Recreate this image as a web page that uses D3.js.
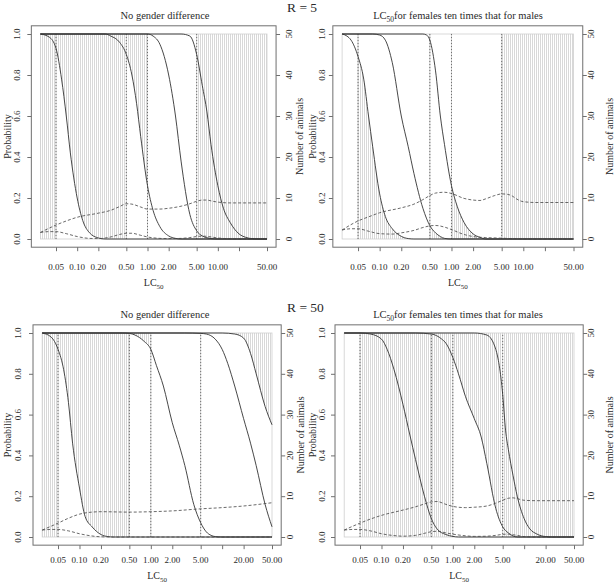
<!DOCTYPE html>
<html><head><meta charset="utf-8">
<script src="https://cdn.jsdelivr.net/npm/d3@7"></script>
<style>
body{margin:0;background:#fff}
svg{display:block}
text{font-family:"Liberation Serif","Times New Roman",serif;fill:#2a2a2a}
</style>
</head><body>
<svg id="chart" width="614" height="584"></svg>
<script>
// ---------- tick / label data ----------
const xTickValues = [0.05, 0.1, 0.2, 0.5, 1, 2, 5, 10, 20, 50];
const topXTickLabels = ["0.05","0.10","0.20","0.50","1.00","2.00","5.00","10.00","","50.00"];
const bottomXTickLabels = ["0.05","0.10","0.20","0.50","1.00","2.00","5.00","","20.00","50.00"];
const probTicks = [0, 0.2, 0.4, 0.6, 0.8, 1.0];
const probTickLabels = ["0.0","0.2","0.4","0.6","0.8","1.0"];
const animalTicks = [0, 10, 20, 30, 40, 50];
const doseLines = [0.05, 0.5, 1, 5];
const lcDomain = [0.03, 50];
const rowTitles = ["R = 5", "R = 50"];
const panelTitles = ["No gender difference", "for females ten times that for males"];

// ---------- R = 5, no gender difference ----------
const tlCurve1 = [[0.03,1],[0.04,0.985],[0.05,0.93],[0.06,0.78],[0.07,0.6],[0.08,0.42],[0.1,0.2],[0.12,0.09],[0.15,0.03],[0.2,0.005],[0.25,0],[50,0]];
const tlCurve2 = [[0.03,1],[0.25,1],[0.3,0.99],[0.4,0.96],[0.5,0.9],[0.6,0.8],[0.7,0.66],[0.8,0.5],[1,0.26],[1.2,0.14],[1.5,0.06],[2,0.015],[2.5,0.003],[3,0],[50,0]];
const tlCurve3 = [[0.03,1],[1,1],[1.2,0.99],[1.5,0.95],[2,0.8],[2.5,0.6],[3,0.38],[4,0.12],[5,0.04],[6,0.015],[7,0.006],[8,0.002],[10,0],[50,0]];
const tlCurve4 = [[0.03,1],[3,1],[4,0.99],[5,0.9],[6,0.75],[7,0.62],[8,0.46],[10,0.26],[12,0.15],[15,0.08],[20,0.025],[25,0.008],[30,0.002],[40,0],[50,0]];
const tlAnimalsUpper = [[0.03,1.6],[0.05,3.4],[0.07,4.4],[0.1,5.3],[0.2,6.3],[0.3,7.0],[0.4,7.9],[0.5,8.6],[0.6,8.5],[0.8,7.8],[1,7.3],[1.5,7.3],[2,7.5],[3,8.0],[4,8.6],[5,9.2],[6,9.5],[7,9.5],[8,9.3],[10,9.0],[15,8.8],[20,8.8],[50,8.8]];
const tlAnimalsLower = [[0.03,1.6],[0.04,1.8],[0.05,1.8],[0.07,1.3],[0.1,0.6],[0.15,0.15],[0.2,0.1],[0.3,0.5],[0.4,1.1],[0.5,1.4],[0.6,1.4],[0.8,0.9],[1,0.5],[1.5,0.15],[2,0.1],[3,0.15],[4,0.35],[5,0.6],[6,0.7],[7,0.65],[8,0.5],[10,0.25],[15,0.05],[20,0],[50,0]];

// ---------- R = 5, females ten times males ----------
const trCurveA = [[0.03,1],[0.035,0.99],[0.04,0.97],[0.05,0.89],[0.06,0.78],[0.07,0.6],[0.08,0.45],[0.1,0.22],[0.12,0.11],[0.15,0.05],[0.2,0.013],[0.25,0.002],[0.3,0],[50,0]];
const trCurveB = [[0.03,1],[0.08,1],[0.1,0.995],[0.12,0.97],[0.15,0.86],[0.2,0.6],[0.25,0.45],[0.3,0.32],[0.4,0.15],[0.5,0.065],[0.6,0.03],[0.7,0.012],[0.8,0.003],[1,0],[50,0]];
const trCurveC = [[0.03,1],[0.4,1],[0.45,0.995],[0.5,0.97],[0.6,0.82],[0.7,0.6],[0.8,0.46],[1,0.26],[1.2,0.16],[1.5,0.08],[2,0.025],[2.5,0.008],[3,0],[50,0]];
const trAnimalsUpper = [[0.03,2.2],[0.05,4.4],[0.07,5.4],[0.1,6.4],[0.2,7.6],[0.3,8.5],[0.4,9.6],[0.5,10.6],[0.6,11.2],[0.8,11.4],[1,11.1],[1.5,9.9],[2,9.5],[2.5,9.4],[3,9.8],[4,10.6],[5,11.0],[6,10.9],[7,10.5],[8,9.8],[10,9.1],[15,8.9],[20,8.9],[50,8.9]];
const trAnimalsLower = [[0.03,2.2],[0.04,2.5],[0.05,2.5],[0.07,1.9],[0.1,1.3],[0.15,1.2],[0.2,1.5],[0.3,2.1],[0.4,2.8],[0.5,3.2],[0.6,3.3],[0.8,2.9],[1,2.3],[1.5,1.1],[2,0.6],[3,0.35],[5,0.2],[7,0.1],[10,0],[50,0]];

// ---------- R = 50, no gender difference ----------
const blCurve1 = [[0.03,1],[0.04,0.98],[0.05,0.92],[0.06,0.82],[0.07,0.66],[0.08,0.46],[0.1,0.24],[0.12,0.1],[0.15,0.05],[0.2,0.012],[0.25,0.002],[0.3,0],[50,0]];
const blCurve2 = [[0.03,1],[0.4,1],[0.5,0.998],[0.6,0.99],[0.8,0.96],[1,0.92],[1.2,0.84],[1.5,0.74],[2,0.56],[2.5,0.45],[3,0.35],[4,0.16],[5,0.07],[6,0.025],[7,0.008],[8,0.002],[10,0],[50,0]];
const blCurve3 = [[0.03,1],[3,1],[5,0.998],[6,0.995],[8,0.97],[10,0.92],[12,0.85],[15,0.74],[20,0.58],[25,0.46],[30,0.35],[40,0.16],[50,0.05]];
const blCurve4 = [[0.03,1],[10,1],[15,0.995],[20,0.975],[25,0.9],[30,0.8],[40,0.64],[50,0.55]];
const blAnimalsUpper = [[0.03,1.7],[0.05,3.4],[0.07,4.6],[0.1,5.6],[0.15,6.1],[0.2,6.2],[0.5,6.1],[1,6.2],[2,6.4],[5,6.9],[10,7.2],[20,7.6],[50,8.4]];
const blAnimalsLower = [[0.03,1.7],[0.04,1.85],[0.05,1.85],[0.07,1.5],[0.1,0.8],[0.15,0.25],[0.2,0.05],[0.3,0],[50,0]];

// ---------- R = 50, females ten times males ----------
const brCurveA = [[0.03,1],[0.05,1],[0.07,0.995],[0.1,0.97],[0.12,0.92],[0.15,0.82],[0.2,0.65],[0.25,0.5],[0.3,0.38],[0.4,0.2],[0.5,0.09],[0.6,0.04],[0.8,0.012],[1,0.003],[1.2,0],[50,0]];
const brCurveB = [[0.03,1],[0.3,1],[0.5,0.995],[0.7,0.97],[0.8,0.95],[1,0.88],[1.2,0.8],[1.5,0.69],[2,0.58],[2.5,0.49],[3,0.36],[4,0.14],[5,0.05],[6,0.02],[7,0.005],[8,0],[50,0]];
const brCurveC = [[0.03,1],[2,1],[3,0.99],[4,0.92],[5,0.7],[5.5,0.52],[6,0.43],[7,0.3],[8,0.2],[10,0.09],[12,0.04],[15,0.015],[20,0.002],[25,0],[50,0]];
const brAnimalsUpper = [[0.03,1.7],[0.05,3.4],[0.07,4.4],[0.1,5.3],[0.2,6.6],[0.3,7.4],[0.4,8.1],[0.5,8.6],[0.6,8.7],[0.8,8.0],[1,7.5],[1.5,7.2],[2,7.3],[3,7.6],[4,8.3],[5,9.0],[6,9.5],[7,9.6],[8,9.4],[10,9.0],[15,8.9],[50,8.9]];
const brAnimalsLower = [[0.03,1.7],[0.04,1.85],[0.05,1.85],[0.07,1.5],[0.1,0.8],[0.15,0.35],[0.2,0.2],[0.3,0.4],[0.4,0.9],[0.5,1.3],[0.6,1.4],[0.8,1.0],[1,0.7],[1.5,0.3],[2,0.15],[3,0.2],[4,0.4],[5,0.65],[6,0.7],[7,0.55],[8,0.4],[10,0.1],[15,0],[50,0]];

// ---------- shaded LC50 intervals: [from, to, mode, curve] ----------
const tlShade = [[0.03,0.05,"full",null],[0.05,0.5,"above",tlCurve1],[0.5,1,"above",tlCurve2],[5,50,"full",null]];
const trShade = [[0.05,0.5,"below",trCurveA],[0.5,1,"below",trCurveB],[1,5,"below",trCurveC],[5,50,"full",null]];
const blShade = [[0.03,0.05,"full",null],[0.05,0.5,"above",blCurve1],[0.5,1,"above",blCurve2],[5,50,"above",blCurve4]];
const brShade = [[0.05,0.5,"full",null],[0.5,1,"full",null],[1,5,"above",brCurveB],[5,50,"full",null]];
const intervalBreaks = [0.03, 0.05, 0.5, 1, 5, 50];

// ---------- layout ----------
const panels = [
  {px:[40.4,267], py:[239,34], title:0, titleX:165, titleY:18.5, tickLabels:topXTickLabels, tickY:270, lcY:286, probX:7, axLabX:20, rAxLabX:289, numX:299,
   curves:[tlCurve1,tlCurve2,tlCurve3,tlCurve4], upper:tlAnimalsUpper, lower:tlAnimalsLower, shade:tlShade},
  {px:[342.1,573.5], py:[239,34], title:1, titleX:458, titleY:18.5, tickLabels:topXTickLabels, tickY:270, lcY:286, probX:312, axLabX:325, rAxLabX:591, numX:609,
   curves:[trCurveA,trCurveB,trCurveC], upper:trAnimalsUpper, lower:trAnimalsLower, shade:trShade},
  {px:[42.2,272], py:[537,333], title:0, titleX:165, titleY:318, tickLabels:bottomXTickLabels, tickY:563, lcY:579, probX:7, axLabX:21, rAxLabX:290, numX:300,
   curves:[blCurve1,blCurve2,blCurve3,blCurve4], upper:blAnimalsUpper, lower:blAnimalsLower, shade:blShade},
  {px:[344.2,574], py:[537,333], title:1, titleX:458, titleY:318, tickLabels:bottomXTickLabels, tickY:563, lcY:579, probX:312, axLabX:325, rAxLabX:591, numX:609,
   curves:[brCurveA,brCurveB,brCurveC], upper:brAnimalsUpper, lower:brAnimalsLower, shade:brShade}
];

const svg = d3.select("#chart");
const defs = svg.append("defs");
const pat = defs.append("pattern").attr("id","hatch").attr("patternUnits","userSpaceOnUse")
  .attr("width",2).attr("height",8);
pat.append("rect").attr("x",0).attr("y",0).attr("width",1).attr("height",8).attr("fill","#d8d8d8");

// row titles
svg.append("text").attr("x",287).attr("y",11.5).attr("font-size",13.5).text(rowTitles[0]);
svg.append("text").attr("x",287).attr("y",311.5).attr("font-size",13.5).text(rowTitles[1]);

const boxColor = "#6f6f6f";

panels.forEach((p, pi) => {
  const x = d3.scaleLog().domain(lcDomain).range(p.px);
  const y = d3.scaleLinear().domain([0,1]).range(p.py);
  const yN = d3.scaleLinear().domain([0,50]).range(p.py);
  const g = svg.append("g");

  const dx = (p.px[1]-p.px[0])*0.04, dy = (p.py[0]-p.py[1])*0.04;
  const bx0 = p.px[0]-dx, bx1 = p.px[1]+dx, by0 = p.py[1]-dy, by1 = p.py[0]+dy;

  const line = d3.line().x(d=>x(d[0])).y(d=>y(d[1])).curve(d3.curveMonotoneX);
  const lineN = d3.line().x(d=>x(d[0])).y(d=>yN(d[1])).curve(d3.curveMonotoneX);

  // shading
  p.shade.forEach((s, si) => {
    const [a, b, mode, curve] = s;
    let target = g;
    if (mode !== "full") {
      const id = `clip${pi}_${si}`;
      const edge = mode === "above" ? y(1) - 1 : y(0) + 1;
      defs.append("clipPath").attr("id", id).append("path")
        .attr("d", line(curve) + `L${x(lcDomain[1])+2},${y(curve[curve.length-1][1])}L${x(lcDomain[1])+2},${edge}L${x(lcDomain[0])-2},${edge}L${x(lcDomain[0])-2},${y(curve[0][1])}Z`);
      target = g.append("g").attr("clip-path", `url(#${id})`);
    }
    target.append("rect").attr("x", x(a)).attr("y", y(1)).attr("width", x(b)-x(a)).attr("height", y(0)-y(1))
      .attr("fill","url(#hatch)");
  });
  for (let i=0;i<intervalBreaks.length-1;i++){
    g.append("rect").attr("x", x(intervalBreaks[i])).attr("y", y(1)).attr("width", x(intervalBreaks[i+1])-x(intervalBreaks[i]))
      .attr("height", y(0)-y(1)).attr("fill","none").attr("stroke","#cfcfcf").attr("stroke-width",0.8);
  }

  doseLines.forEach(d => {
    g.append("line").attr("x1", x(d)).attr("x2", x(d)).attr("y1", y(0)).attr("y2", y(1))
      .attr("stroke","#555").attr("stroke-width",0.8).attr("stroke-dasharray","1,2");
  });

  p.curves.forEach(c => {
    g.append("path").attr("d", line(c)).attr("fill","none").attr("stroke","#333").attr("stroke-width",0.9);
  });
  g.append("path").attr("d", lineN(p.upper)).attr("fill","none").attr("stroke","#444").attr("stroke-width",0.8).attr("stroke-dasharray","3,2");
  g.append("path").attr("d", lineN(p.lower)).attr("fill","none").attr("stroke","#444").attr("stroke-width",0.8).attr("stroke-dasharray","3,2");

  g.append("rect").attr("x",bx0).attr("y",by0).attr("width",bx1-bx0).attr("height",by1-by0)
    .attr("fill","none").attr("stroke",boxColor).attr("stroke-width",1);

  const xAxis = d3.axisBottom(x).tickValues(xTickValues).tickSize(4).tickFormat("");
  const xg = g.append("g").attr("transform",`translate(0,${by1})`).call(xAxis);
  xg.select(".domain").remove();
  xg.selectAll("line").attr("stroke",boxColor);
  xTickValues.forEach((v,i) => {
    if (p.tickLabels[i]) g.append("text").attr("x", x(v)).attr("y", p.tickY).attr("text-anchor","middle")
      .attr("font-size",9).text(p.tickLabels[i]);
  });
  const cx = (bx0+bx1)/2;
  const lc = g.append("text").attr("x", cx).attr("y", p.lcY).attr("text-anchor","middle").attr("font-size",10);
  lc.append("tspan").text("LC");
  lc.append("tspan").attr("font-size",7).attr("dy",3).text("50");

  const yAxis = d3.axisLeft(y).tickValues(probTicks).tickSize(4).tickFormat("");
  const yg = g.append("g").attr("transform",`translate(${bx0},0)`).call(yAxis);
  yg.select(".domain").remove();
  yg.selectAll("line").attr("stroke",boxColor);
  probTicks.forEach((v,i) => {
    g.append("text").attr("transform",`translate(${p.axLabX},${y(v)}) rotate(-90)`).attr("text-anchor","middle")
      .attr("font-size",9).text(probTickLabels[i]);
  });
  g.append("text").attr("transform",`translate(${p.probX},${(by0+by1)/2}) rotate(-90)`).attr("text-anchor","middle")
    .attr("font-size",10).attr("dy","0.35em").text("Probability");

  const rAxis = d3.axisRight(yN).tickValues(animalTicks).tickSize(4).tickFormat("");
  const rg = g.append("g").attr("transform",`translate(${bx1},0)`).call(rAxis);
  rg.select(".domain").remove();
  rg.selectAll("line").attr("stroke",boxColor);
  animalTicks.forEach(v => {
    g.append("text").attr("transform",`translate(${p.rAxLabX},${yN(v)}) rotate(-90)`).attr("text-anchor","middle")
      .attr("dy","0.35em").attr("font-size",9).text(v);
  });
  g.append("text").attr("transform",`translate(${p.numX},${(by0+by1)/2}) rotate(-90)`).attr("text-anchor","middle")
    .attr("dy","0.35em").attr("font-size",10).text("Number of animals");

  const t = g.append("text").attr("x", p.titleX).attr("y", p.titleY).attr("text-anchor","middle").attr("font-size",10.5);
  if (p.title === 0) t.text(panelTitles[0]);
  else {
    t.append("tspan").text("LC");
    t.append("tspan").attr("font-size",7.5).attr("dy",3).text("50");
    t.append("tspan").attr("dy",-3).text(panelTitles[1]);
  }
});
</script>
</body></html>
